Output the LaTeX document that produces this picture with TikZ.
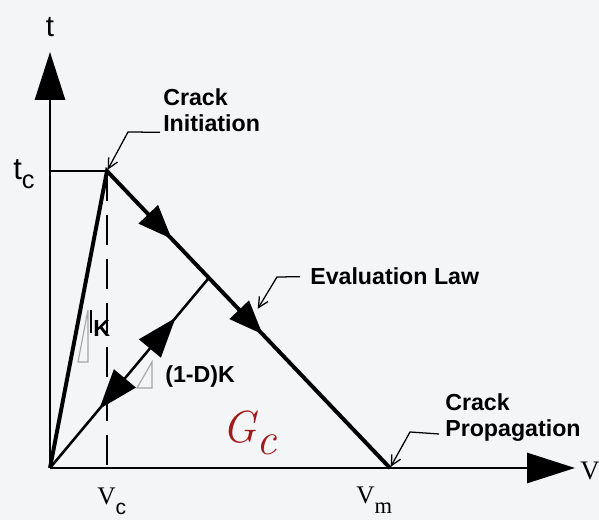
\documentclass[tikz,border=0pt]{standalone}
\usepackage{fontspec}
\usepackage{tikz}
\usetikzlibrary{arrows.meta,positioning,decorations.markings,calc}
\newfontfamily\sansf{Liberation Sans}
\newfontfamily\seriff{Liberation Serif}
\definecolor{bgc}{HTML}{F4F5F7}
\definecolor{gcred}{HTML}{9E1B1B}
\tikzset{
  axistip/.tip={Triangle[length=12mm,width=7.5mm]},
  softtip/.tip={Triangle[length=8.5mm,width=6.5mm]},
  unloadtip/.tip={Triangle[length=10mm,width=7mm]},
  note/.style={font=\sansf\bfseries\fontsize{16.5}{19}\selectfont,align=left,inner sep=0pt},
  leader/.style={line width=0.9pt,-{Straight Barb[length=2.5mm,width=2.5mm]},shorten >=1pt},
  stiff/.style={gray!70,line width=0.8pt,line join=miter}
}

\begin{document}
\begin{tikzpicture}
% canvas
\fill[bgc] (0,0) rectangle (14.975,13);
\useasboundingbox (0,0) rectangle (14.975,13);
% key points
\coordinate (O) at (1.25,1.3);
\coordinate (P) at (2.675,8.725);
\coordinate (M) at (9.75,1.3);
\coordinate (U) at ($(P)!0.36!(M)$);
\coordinate (ytip) at (1.25,11.7);
\coordinate (xtip) at (14.375,1.3);
\coordinate (tcfoot) at (1.25,8.725);
\coordinate (vcfoot) at (2.675,1.2);
% axes and guides
\draw[line width=2.1pt,-axistip] (O) -- (ytip);
\draw[line width=2.1pt,-axistip] (O) -- (xtip);
\draw[line width=1.1pt] (tcfoot) -- (P);
\draw[line width=1.1pt,dash pattern=on 0.75cm off 0.35cm] (P) -- (vcfoot);
% loading, softening, unloading
\draw[line width=2.8pt,line join=miter,postaction={decorate},
  decoration={markings,mark=at position 0.556 with {\arrow{softtip}},
  mark=at position 0.741 with {\arrow{softtip}}}] (O) -- (P) -- (M);
\draw[line width=1.8pt,postaction={decorate},
  decoration={markings,mark=at position 0.31 with {\arrowreversed{unloadtip}},
  mark=at position 0.79 with {\arrow{unloadtip}}}] (O) -- (U);
% stiffness triangles
\foreach \x/\y/\w/\h in {1.95/3.95/0.25/1.3, 3.425/3.3/0.375/0.65}
  \draw[stiff] (\x,\y) -- ++(\w,0) -- ++(0,\h) -- cycle;
\draw[line width=1pt] (2.275,5.25) -- (2.275,4.675);
\node[note,anchor=base west] (klab) at (2.325,4.575) {K};
\node[note,anchor=base west] (dklab) at (4.125,3.425) {(1-D)K};
% axis labels
\node[anchor=base,inner sep=0pt] (tlab) at (1.25,12.075) {\sansf\fontsize{21}{21}\selectfont t};
\node[anchor=base west,inner sep=0pt] (tclab) at (0.325,8.5)
  {\sansf\fontsize{22}{22}\selectfont t\raisebox{-5.7pt}{\fontsize{18}{18}\selectfont c}};
\node[anchor=base west,inner sep=0pt] (vclab) at (2.425,0.375)
  {\seriff\fontsize{18}{18}\selectfont V\raisebox{-7pt}{\sansf\fontsize{15}{15}\selectfont c}};
\node[anchor=base west,inner sep=0pt] (vmlab) at (8.9,0.4)
  {\seriff\fontsize{18}{18}\selectfont V\raisebox{-7pt}{\fontsize{16}{16}\selectfont m}};
\node[anchor=base west,inner sep=0pt] (vlab) at (14.5,1.0) {\seriff\fontsize{19}{19}\selectfont V};
\node[anchor=base west,inner sep=0pt,text=gcred] (gc) at (5.55,1.925)
  {\rmfamily\itshape\fontsize{32}{32}\selectfont G\raisebox{-8.5pt}{c}};
% annotations
\node[note,anchor=north west] (init) at (4.075,10.8) {Crack\\Initiation};
\node[note,anchor=base west] (law) at (7.75,5.875) {Evaluation Law};
\node[note,anchor=north west] (prop) at (11.125,3.175) {Crack\\Propagation};
\coordinate (initknee) at (3.2,9.7);
\coordinate (lawknee) at (6.925,6.075);
\coordinate (lawtip) at (6.425,5.25);
\coordinate (propknee) at (10.25,2.2);
\draw[leader] ($(init.south west)+(-0.075,0)$) -- (initknee) -- (P);
\draw[leader] ($(law.west)+(-0.25,0)$) -- (lawknee) -- (lawtip);
\draw[leader] ($(prop.south west)+(-0.15,0.2)$) -- (propknee) -- (M);
\end{tikzpicture}
\end{document}
